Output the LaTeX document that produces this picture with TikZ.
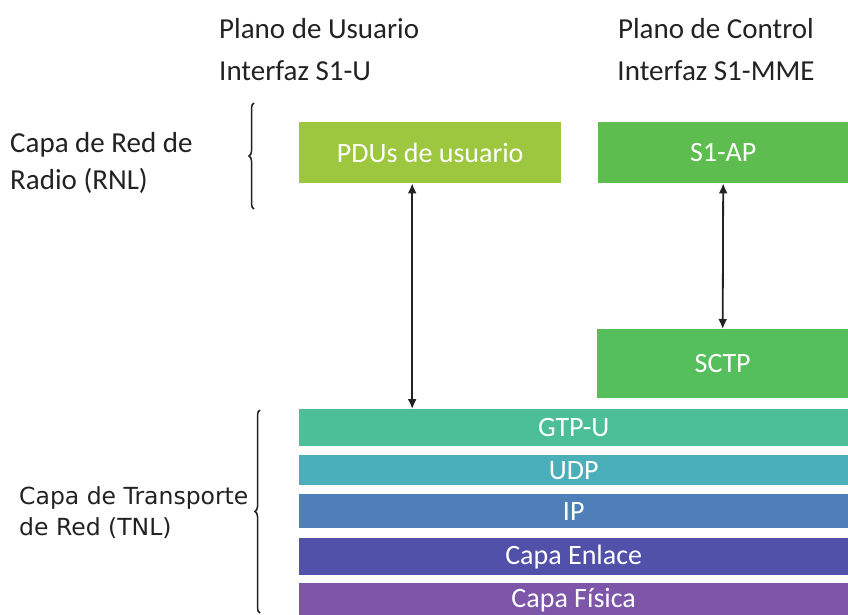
\documentclass[tikz,border=0pt]{standalone}
\usepackage{fontspec}
\setmainfont{Carlito}
\newfontfamily\tnlfont{DejaVu Sans}
\usetikzlibrary{arrows.meta,decorations.pathreplacing}
\definecolor{pduverde}{HTML}{9DC73E}
\definecolor{apverde}{HTML}{5DBD4E}
\definecolor{sctpverde}{HTML}{55BF5C}
\definecolor{gtpcol}{HTML}{4CBE98}
\definecolor{udpcol}{HTML}{4AAFB9}
\definecolor{ipcol}{HTML}{4F7FB8}
\definecolor{enlacecol}{HTML}{5151A9}
\definecolor{fisicacol}{HTML}{7D55A9}
\definecolor{texto}{HTML}{222222}

\begin{document}
\begin{tikzpicture}[x=1pt,y=-1pt,
  lbl/.style={inner sep=0pt,anchor=west,text=texto,align=left,
    font=\fontsize{29}{42}\selectfont},
  capa/.style={inner sep=0pt,anchor=north west,text=white,
    font=\fontsize{28}{30}\selectfont},
  llave/.style={decorate,decoration={brace,amplitude=5pt},line width=1.5pt,draw=texto},
  flecha/.style={{Latex[length=10pt,width=9pt]}-{Latex[length=10pt,width=9pt]},line width=1.8pt,draw=texto}]
  \useasboundingbox (0,0) rectangle (848,615);
  % titulos
  \node[lbl] (usuario) at (219,50) {Plano de Usuario\\Interfaz S1-U};
  \node[lbl,anchor=center,align=center] (control) at (716,50) {Plano de Control\\Interfaz S1-MME};
  \node[lbl,font=\fontsize{29}{37}\selectfont] (rnl) at (10,163) {Capa de Red de\\Radio (RNL)};
  \node[lbl,font=\tnlfont\fontsize{23.5}{31}\selectfont] (tnl) at (19,513) {Capa de Transporte\\de Red (TNL)};
  % llaves
  \draw[llave] (254,209) -- (254,103);
  \draw[llave] (260,613) -- (260,410);
  % cajas RNL
  \node[capa,fill=pduverde,minimum width=262pt,minimum height=61pt] (pdu) at (299,122) {PDUs de usuario};
  \node[capa,fill=apverde,minimum width=250pt,minimum height=61pt] (s1ap) at (598,122) {S1-AP};
  \node[capa,fill=sctpverde,minimum width=251pt,minimum height=69pt] (sctp) at (597,329) {SCTP};
  % capas TNL
  \foreach \n/\y/\h/\c/\t in {gtp/409/37/gtpcol/GTP-U, udp/455/30/udpcol/UDP,
      ip/494/34/ipcol/IP, enlace/538/37/enlacecol/Capa Enlace,
      fisica/583/33/fisicacol/Capa Física}
    { \node[capa,fill=\c,minimum width=549pt,minimum height=\h pt] (\n) at (299,\y) {\t}; }
  % flechas
  \draw[flecha] ([xshift=-18pt]pdu.south) -- ([xshift=-18pt]pdu.south |- gtp.north);
  \draw[flecha] (s1ap.south) -- (sctp.north);
\end{tikzpicture}
\end{document}
